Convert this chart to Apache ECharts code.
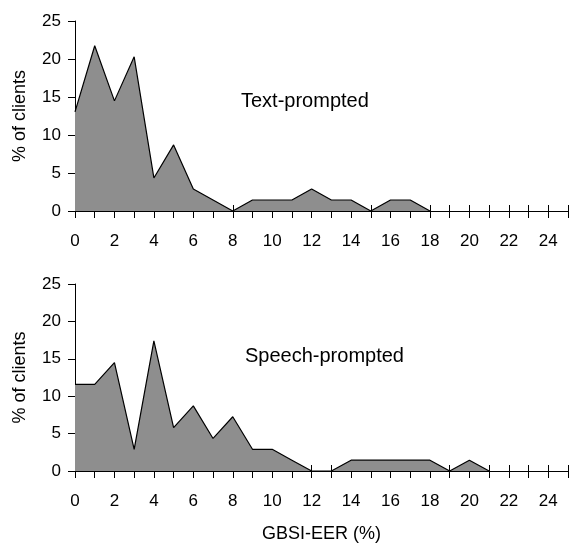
<!DOCTYPE html>
<html>
<head>
<meta charset="utf-8">
<script src="https://cdn.jsdelivr.net/npm/echarts@6/dist/echarts.min.js"></script>
<style>html,body{margin:0;padding:0;background:#fff}#c{width:571px;height:544px}</style>
</head>
<body>
<div id="c"></div>
<script>
const eerText = [0,1,2,3,4,5,6,7,8,9,10,11,12,13,14,15,16,17,18];
const textPrompted = [13.04,21.74,14.49,20.29,4.35,8.70,2.90,1.45,0,1.45,1.45,1.45,2.90,1.45,1.45,0,1.45,1.45,0];
const eerSpeech = [0,1,2,3,4,5,6,7,8,9,10,11,12,13,14,15,16,17,18,19,20,21];
const speechPrompted = [11.59,11.59,14.49,2.90,17.39,5.80,8.70,4.35,7.25,2.90,2.90,1.45,0,0,1.45,1.45,1.45,1.45,1.45,0,1.45,0];
const panelLabels = ['Text-prompted','Speech-prompted'];
const yTitle = '% of clients';
const xTitle = 'GBSI-EER (%)';

const FONT = 'Liberation Sans, Arial, sans-serif';
const chart = echarts.init(document.getElementById('c'));

function xAxes(gi, withName){
  const base = {
    type:'value', gridIndex:gi, position:'bottom', min:0, max:25, interval:1,
    axisLine:{show:true, onZero:false, lineStyle:{color:'#000', width:1}},
    splitLine:{show:false}
  };
  return [
    Object.assign({}, base, {
      axisTick:{show:true, length:7, lineStyle:{color:'#000'}},
      axisLabel:{show:true, margin:22, color:'#000', fontSize:17, fontFamily:FONT,
        formatter: v => (v % 2 === 0 && v <= 24) ? String(v) : ''},
      name: withName ? xTitle : '', nameLocation:'middle', nameGap:54,
      nameTextStyle:{color:'#000', fontSize:18, fontFamily:FONT}
    }),
    Object.assign({}, base, {
      axisLine:{show:false, onZero:false},
      axisTick:{show:true, inside:true, length:6, lineStyle:{color:'#000'}},
      axisLabel:{show:false}
    })
  ];
}
function yAxis(gi){
  return {
    type:'value', gridIndex:gi, min:0, max:25, interval:5,
    axisLine:{show:true, lineStyle:{color:'#000', width:1}},
    axisTick:{show:true, length:7, lineStyle:{color:'#000'}},
    axisLabel:{margin:14, color:'#000', fontSize:17, fontFamily:FONT},
    splitLine:{show:false},
    name: yTitle, nameLocation:'middle', nameGap:46,
    nameTextStyle:{color:'#000', fontSize:18, fontFamily:FONT}
  };
}
function areaSeries(xs, ys, xi, yi){
  return {
    type:'line', xAxisIndex:xi, yAxisIndex:yi,
    data: xs.map((x,i)=>[x, ys[i]]),
    symbol:'none', smooth:false,
    lineStyle:{color:'#000', width:1.2},
    areaStyle:{color:'#8e8e8e', opacity:1},
    z:1
  };
}
chart.setOption({
  animation:false,
  backgroundColor:'#fff',
  grid:[
    {left:75, top:21, width:500, height:190},
    {left:75, top:284, width:500, height:190}
  ],
  xAxis:[].concat(xAxes(0,false), xAxes(1,true)),
  yAxis:[yAxis(0), yAxis(1)],
  series:[
    areaSeries(eerText, textPrompted, 0, 0),
    areaSeries(eerSpeech, speechPrompted, 2, 1)
  ],
  graphic:[
    {type:'text', left:241, top:91, style:{text:panelLabels[0], fill:'#000', fontSize:20, fontFamily:FONT}},
    {type:'text', left:245, top:346, style:{text:panelLabels[1], fill:'#000', fontSize:20, fontFamily:FONT}}
  ]
});
</script>
</body>
</html>
